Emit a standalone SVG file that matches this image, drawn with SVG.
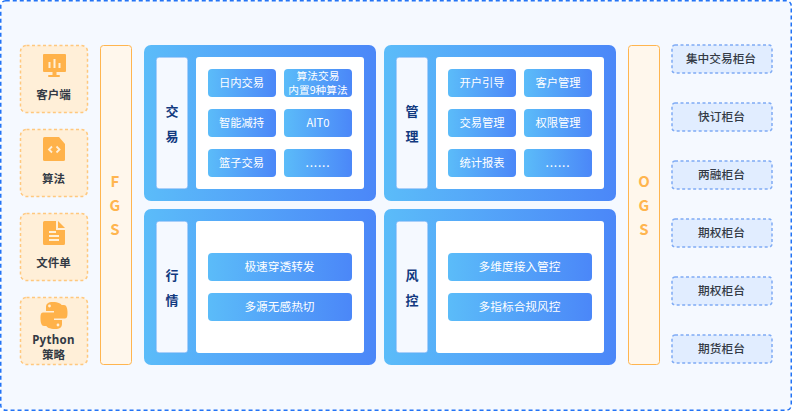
<svg xmlns="http://www.w3.org/2000/svg" width="792" height="411" viewBox="0 0 792 411">
<defs>
<linearGradient id="g" x1="0" y1="0" x2="1" y2="0"><stop offset="0" stop-color="#5bbcf9"/><stop offset="1" stop-color="#4b87f8"/></linearGradient>
<style>
text{font-family:"Noto Sans CJK SC","Noto Sans",sans-serif;text-anchor:middle}
.card{fill:#ffefd8;stroke:#ffc87e;stroke-width:1.5;stroke-dasharray:3 2.5}
.cl{font-size:11.500px;font-weight:700;fill:#333a45}
.py{font-size:11.500px;font-weight:700;fill:#333a45;font-family:"Noto Sans",sans-serif;letter-spacing:.3px}
.bar{fill:#fff7ec;stroke:#ffb54f;stroke-width:1}
.bl{font-size:15px;font-weight:700;fill:#ffb54f}
.panel{fill:url(#g)}
.lab{fill:#f5f9ff;stroke:#6aa7f5;stroke-width:.5}
.lt{font-size:13px;font-weight:700;fill:#123a80}
.white{fill:#fff}
.btn{fill:url(#g)}
.bt{font-size:11.300px;fill:#fff}
.bw{font-size:11.700px;fill:#fff}
.bs{font-size:10.700px;fill:#fff}
.dots{font-size:12px;fill:#fff;letter-spacing:.8px}
.r{fill:#e1edff;stroke:#7fabf5;stroke-width:1.5;stroke-dasharray:3 2.5}
.rt{font-size:11.700px;font-weight:500;fill:#333a45}
.ic{fill:#ffb24a}
.icw{fill:#ffefd8}
</style>
</defs>
<rect x="0.75" y="0.75" width="790.500" height="409.500" rx="5" fill="#f5f9ff" stroke="#2273f5" stroke-width="1.500" stroke-dasharray="4 3"/>

<g id="client"><rect class="card" x="20.500" y="45.500" width="67" height="67" rx="6"/>
<rect class="ic" x="43" y="54" width="23" height="18" rx="1"/><rect class="ic" x="52.500" y="72" width="4" height="3"/><rect class="ic" x="48" y="75" width="12" height="2" rx="1"/>
<rect class="icw" x="48.500" y="62" width="2" height="6"/><rect class="icw" x="53.500" y="59" width="2" height="9"/><rect class="icw" x="58.500" y="63" width="2" height="5"/>
<text class="cl" x="53.500" y="99">客户端</text></g>
<g id="algo"><rect class="card" x="20.500" y="129.500" width="67" height="67" rx="6"/>
<path class="ic" d="M44.500 137h14.500l6 7v15.500a1.500 1.500 0 0 1-1.500 1.500h-19a1.500 1.500 0 0 1-1.500-1.500v-21a1.500 1.500 0 0 1 1.500-1.500z"/>
<path d="M52 146.500l-3 3 3 3M56.500 146.500l3 3-3 3" fill="none" stroke="#ffefd8" stroke-width="1.800"/>
<text class="cl" x="53.500" y="183">算法</text></g>
<g id="file"><rect class="card" x="20.500" y="213.500" width="67" height="67" rx="6"/>
<path class="ic" d="M44.500 221h11.500v9h9v13.500a1.500 1.500 0 0 1-1.500 1.500h-19a1.500 1.500 0 0 1-1.500-1.500v-21a1.500 1.500 0 0 1 1.500-1.500z"/><path class="ic" d="M58 221l7 7h-7z"/>
<rect class="icw" x="49" y="231" width="7" height="2"/><rect class="icw" x="49" y="235" width="10" height="2"/><rect class="icw" x="49" y="239" width="10" height="2"/>
<text class="cl" x="53.500" y="267">文件单</text></g>
<g id="python"><rect class="card" x="20.500" y="297.500" width="67" height="67" rx="6"/>
<path class="ic" d="M53 302c-5 0-7 2-7 5v4h8v1.500h-11c-2.500 0-2.500 3-2.500 6.500s1 7 3.500 7h3v-4c0-2.500 2-4.500 4.500-4.500h7c2 0 3.500-1.500 3.500-3.500v-7.500c0-3-4-4.500-9-4.500z"/>
<path class="ic" d="M55 329c5 0 7-2 7-5v-4h-8v-1.500h11c2.500 0 2.500-3 2.500-6.500s-1-7-3.500-7h-3v4c0 2.500-2 4.500-4.500 4.500h-7c-2 0-3.500 1.500-3.500 3.500v7.500c0 3 4 4.500 9 4.500z"/>
<circle class="icw" cx="49.500" cy="306" r="1.400"/><circle class="icw" cx="58" cy="325" r="1.400"/>
<text class="py" x="53.500" y="344">Python</text><text class="cl" x="53.500" y="359">策略</text></g>

<g id="fgs"><rect class="bar" x="100.500" y="45.500" width="31" height="319" rx="3"/>
<text class="bl" x="115" y="187">F</text><text class="bl" x="115" y="211">G</text><text class="bl" x="115" y="235">S</text></g>

<g id="trade"><rect class="panel" x="144" y="45" width="232" height="156" rx="7"/><rect class="lab" x="156.250" y="57.250" width="31.500" height="131.500" rx="3"/><rect class="white" x="196" y="57" width="168" height="132" rx="3"/>
<text class="lt" x="172" y="116">交</text><text class="lt" x="172" y="141">易</text>
<rect class="btn" x="208" y="69" width="68" height="28" rx="4"/><text class="bt" x="241.500" y="87">日内交易</text>
<rect class="btn" x="284" y="69" width="68" height="28" rx="4"/><text class="bs" x="318" y="80">算法交易</text><text class="bs" x="318" y="93.500">内置9种算法</text>
<rect class="btn" x="208" y="109" width="68" height="28" rx="4"/><text class="bt" x="241.500" y="127">智能减持</text>
<rect class="btn" x="284" y="109" width="68" height="28" rx="4"/><text class="bt" x="318" y="127">AIT0</text>
<rect class="btn" x="208" y="149" width="68" height="28" rx="4"/><text class="bt" x="241.500" y="167">篮子交易</text>
<rect class="btn" x="284" y="149" width="68" height="28" rx="4"/><text class="dots" x="318" y="167">......</text></g>

<g id="manage"><rect class="panel" x="384" y="45" width="232" height="156" rx="7"/><rect class="lab" x="396.250" y="57.250" width="31.500" height="131.500" rx="3"/><rect class="white" x="436" y="57" width="168" height="132" rx="3"/>
<text class="lt" x="412" y="116">管</text><text class="lt" x="412" y="141">理</text>
<rect class="btn" x="448" y="69" width="68" height="28" rx="4"/><text class="bt" x="482" y="87">开户引导</text>
<rect class="btn" x="524" y="69" width="68" height="28" rx="4"/><text class="bt" x="558" y="87">客户管理</text>
<rect class="btn" x="448" y="109" width="68" height="28" rx="4"/><text class="bt" x="482" y="127">交易管理</text>
<rect class="btn" x="524" y="109" width="68" height="28" rx="4"/><text class="bt" x="558" y="127">权限管理</text>
<rect class="btn" x="448" y="149" width="68" height="28" rx="4"/><text class="bt" x="482" y="167">统计报表</text>
<rect class="btn" x="524" y="149" width="68" height="28" rx="4"/><text class="dots" x="558" y="167">......</text></g>

<g id="market"><rect class="panel" x="144" y="209" width="232" height="156" rx="7"/><rect class="lab" x="156.250" y="221.250" width="31.500" height="131.500" rx="3"/><rect class="white" x="196" y="221" width="168" height="132" rx="3"/>
<text class="lt" x="172" y="280">行</text><text class="lt" x="172" y="305">情</text>
<rect class="btn" x="208" y="253" width="144" height="28" rx="4"/><text class="bw" x="279.500" y="271">极速穿透转发</text>
<rect class="btn" x="208" y="293" width="144" height="28" rx="4"/><text class="bw" x="279.500" y="311">多源无感热切</text></g>

<g id="risk"><rect class="panel" x="384" y="209" width="232" height="156" rx="7"/><rect class="lab" x="396.250" y="221.250" width="31.500" height="131.500" rx="3"/><rect class="white" x="436" y="221" width="168" height="132" rx="3"/>
<text class="lt" x="412" y="280">风</text><text class="lt" x="412" y="305">控</text>
<rect class="btn" x="448" y="253" width="144" height="28" rx="4"/><text class="bw" x="519.500" y="271">多维度接入管控</text>
<rect class="btn" x="448" y="293" width="144" height="28" rx="4"/><text class="bw" x="519.500" y="311">多指标合规风控</text></g>

<g id="ogs"><rect class="bar" x="628.500" y="45.500" width="31" height="319" rx="3"/>
<text class="bl" x="644" y="187">O</text><text class="bl" x="644" y="211">G</text><text class="bl" x="644" y="235">S</text></g>

<g id="c1"><rect class="r" x="672" y="45" width="100" height="28" rx="3"/><text class="rt" x="721" y="63">集中交易柜台</text></g>
<g id="c2"><rect class="r" x="672" y="103" width="100" height="28" rx="3"/><text class="rt" x="721.500" y="121">快订柜台</text></g>
<g id="c3"><rect class="r" x="672" y="161" width="100" height="28" rx="3"/><text class="rt" x="721.500" y="179">两融柜台</text></g>
<g id="c4"><rect class="r" x="672" y="219" width="100" height="28" rx="3"/><text class="rt" x="721.500" y="237">期权柜台</text></g>
<g id="c5"><rect class="r" x="672" y="277" width="100" height="28" rx="3"/><text class="rt" x="721.500" y="295">期权柜台</text></g>
<g id="c6"><rect class="r" x="672" y="335" width="100" height="28" rx="3"/><text class="rt" x="721.500" y="353">期货柜台</text></g>
</svg>
